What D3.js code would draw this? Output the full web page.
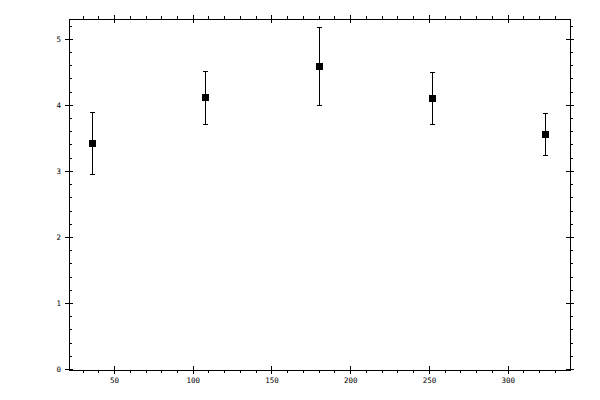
<!DOCTYPE html>
<html>
<head>
<meta charset="utf-8">
<script src="https://cdn.jsdelivr.net/npm/d3@7"></script>
<style>
    body { margin: 0; background: #fff; }
    svg { display: block; }
    .tick text { font-family: "DejaVu Sans Mono", monospace; font-size: 7.5px; fill: #000; }
    .tick line { stroke: #000; shape-rendering: crispEdges; }
</style>
</head>
<body>
<svg id="chart" width="600" height="400"></svg>
<script>
// Data
var xValues = [36, 108, 180, 252, 324];
var yValues = [3.42, 4.12, 4.59, 4.10, 3.56];
var yHigh = [3.89, 4.51, 5.18, 4.50, 3.87];
var yLow = [2.95, 3.71, 4.00, 3.71, 3.24];

var xMajor = [50, 100, 150, 200, 250, 300];
var xMinor = [30, 40, 60, 70, 80, 90, 110, 120, 130, 140, 160, 170, 180, 190,
    210, 220, 230, 240, 260, 270, 280, 290, 310, 320, 330];
var yMajor = [0, 1, 2, 3, 4, 5];
var yMinor = [0.2, 0.4, 0.6, 0.8, 1.2, 1.4, 1.6, 1.8, 2.2, 2.4, 2.6, 2.8,
    3.2, 3.4, 3.6, 3.8, 4.2, 4.4, 4.6, 4.8, 5.2];

var svg = d3.select("#chart");

// Frame edges (note: "top" is reserved on window)
var frame = {left: 69, right: 570, top: 19, bottom: 370};

var x = d3.scaleLinear().domain([21.4, 339.6]).range([frame.left, frame.right]);
var y = d3.scaleLinear().domain([0, 5.3]).range([369, frame.top]);

var fmt = d3.format("d");

// Axis helper: draw ticks then stretch the major ones across the frame line
var drawAxis = function(axis, tx, ty, cross, labels) {
    var g = svg.append("g")
        .attr("transform", "translate(" + tx + "," + ty + ")")
        .call(axis);
    g.select(".domain").remove();
    if(!labels)
        g.selectAll(".tick text").remove();
    if(cross != undefined) {
        g.selectAll(".tick line").attr(cross.attr, cross.value);
    }
    return g;
};

// Bottom
drawAxis(d3.axisBottom(x).tickValues(xMajor).tickFormat(fmt)
        .tickSizeInner(4).tickSizeOuter(0).tickPadding(4),
    0, frame.bottom, {attr: "y1", value: -4}, true);
drawAxis(d3.axisBottom(x).tickValues(xMinor).tickSize(3), 0, frame.bottom);

// Top
drawAxis(d3.axisTop(x).tickValues(xMajor).tickSizeInner(4).tickSizeOuter(0),
    0, frame.top, {attr: "y1", value: 4}, false);
drawAxis(d3.axisTop(x).tickValues(xMinor).tickSize(3), 0, frame.top);

// Left
drawAxis(d3.axisLeft(y).tickValues(yMajor).tickFormat(fmt)
        .tickSizeInner(4).tickSizeOuter(0).tickPadding(4),
    frame.left, 0, {attr: "x1", value: 4}, true);
drawAxis(d3.axisRight(y).tickValues(yMinor).tickSize(3), frame.left, 0);

// Right
drawAxis(d3.axisRight(y).tickValues(yMajor).tickSizeInner(4).tickSizeOuter(0),
    frame.right, 0, {attr: "x1", value: -4}, false);
drawAxis(d3.axisRight(y).tickValues(yMinor).tickSize(3), frame.right, 0);

// Frame
svg.append("rect")
    .attr("x", frame.left + 0.5)
    .attr("y", frame.top + 0.5)
    .attr("width", frame.right - frame.left)
    .attr("height", frame.bottom - frame.top)
    .attr("fill", "none")
    .attr("stroke", "#000")
    .attr("shape-rendering", "crispEdges");

// Error bars and markers
var points = xValues.map(function(d, i) {
    return {x: d, y: yValues[i], hi: yHigh[i], lo: yLow[i]};
});

var pt = svg.append("g").selectAll("g")
    .data(points)
    .enter().append("g")
    .attr("transform", function(d) {
        return "translate(" + (Math.round(x(d.x)) + 0.5) + ",0)";
    });

pt.append("line")
    .attr("x1", 0).attr("x2", 0)
    .attr("y1", function(d) { return Math.round(y(d.hi)) + 0.5; })
    .attr("y2", function(d) { return Math.round(y(d.lo)) + 0.5; })
    .attr("stroke", "#000");

pt.selectAll(".cap")
    .data(function(d) { return [d.hi, d.lo]; })
    .enter().append("line")
    .attr("class", "cap")
    .attr("x1", -2.5).attr("x2", 2.5)
    .attr("y1", function(v) { return Math.round(y(v)) + 0.5; })
    .attr("y2", function(v) { return Math.round(y(v)) + 0.5; })
    .attr("stroke", "#000");

pt.append("rect")
    .attr("x", -3.5)
    .attr("y", function(d) { return Math.round(y(d.y)) - 3; })
    .attr("width", 7)
    .attr("height", 7)
    .attr("fill", "#000");
</script>
</body>
</html>
